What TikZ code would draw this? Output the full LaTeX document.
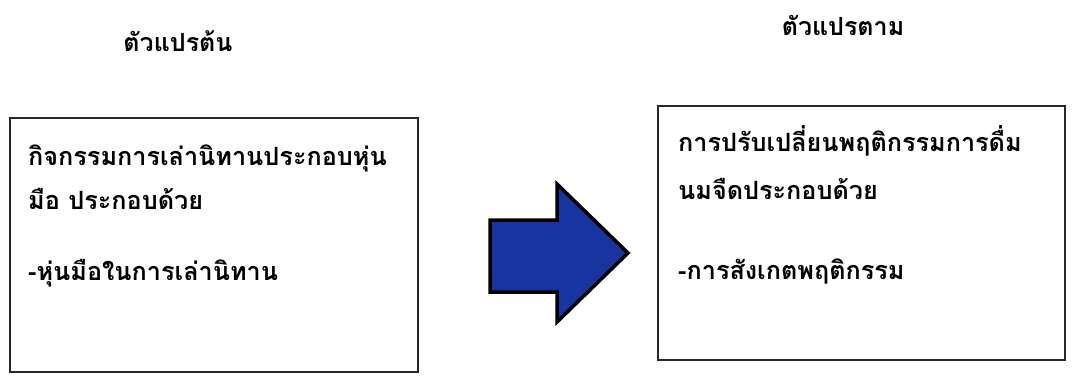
\documentclass[tikz,border=0pt]{standalone}
\usepackage{fontspec}
\newfontfamily\thaifont[Script=Thai]{Loma}
\definecolor{arrowblue}{RGB}{24,52,160}
\definecolor{boxline}{RGB}{40,40,40}
\begin{document}
\begin{tikzpicture}[x=1pt,y=-1pt,
  vbox/.style={draw=boxline,line width=1.6pt},
  txt/.style={anchor=base west,inner sep=0pt,font=\thaifont\bfseries\fontsize{25.2}{30}\selectfont},
  ttl/.style={anchor=base,inner sep=0pt,font=\thaifont\bfseries\fontsize{25}{30}\selectfont}]
\useasboundingbox (0,0) rectangle (1087,377);
\fill[white] (0,0) rectangle (1087,377);
\node[ttl] (t1) at (178,52) {ตัวแปรต้น};
\node[ttl] (t2) at (843,36) {ตัวแปรตาม};
\draw[vbox] (10,118) rectangle (418,372);
\draw[vbox] (658,106) rectangle (1065,360);
\node[txt] (l1) at (28,165) {กิจกรรมการเล่านิทานประกอบหุ่น};
\node[txt] (l2) at (28,209) {มือ ประกอบด้วย};
\node[txt] (l3) at (28,280) {-หุ่นมือในการเล่านิทาน};
\node[txt] (r1) at (678,152) {การปรับเปลี่ยนพฤติกรรมการดื่ม};
\node[txt] (r2) at (678,199) {นมจืดประกอบด้วย};
\node[txt] (r3) at (678,279) {-การสังเกตพฤติกรรม};
\draw[fill=arrowblue,draw=black,line width=3.5pt,line join=miter]
  (490,220) -- (557,220) -- (557,184) -- (628,253) -- (557,322) -- (557,292) -- (490,292) -- cycle;
\end{tikzpicture}
\end{document}
